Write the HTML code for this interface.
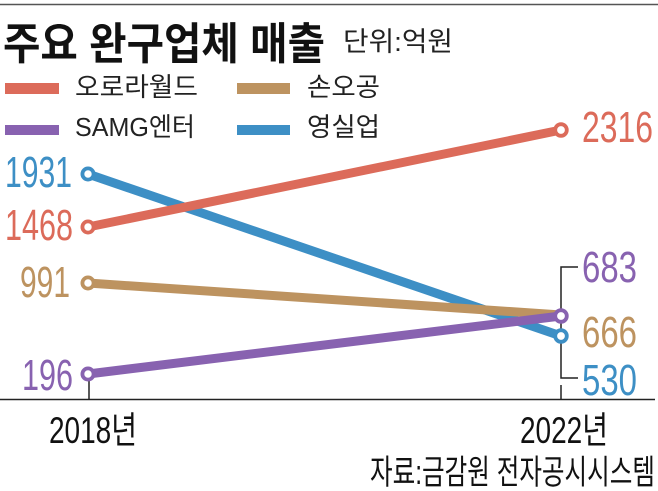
<!DOCTYPE html>
<html>
<head>
<meta charset="utf-8">
<style>
  html, body { margin: 0; padding: 0; background: #ffffff; }
  svg { display: block; }
  .kr { font-family: "Liberation Sans", "Noto Sans CJK KR", "NanumGothic", sans-serif; }
  .num { font-family: "Liberation Sans", sans-serif; }
</style>
</head>
<body>
<svg width="658" height="491" viewBox="0 0 658 491" xmlns="http://www.w3.org/2000/svg">
  <rect width="658" height="491" fill="#ffffff"/>
  <!-- top rule -->
  <line x1="0" y1="4.5" x2="658" y2="4.5" stroke="#555" stroke-width="1.6"/>

  <!-- title -->
  <text class="kr" x="3" y="59" font-size="44" font-weight="bold" fill="#111" textLength="322" lengthAdjust="spacingAndGlyphs">주요 완구업체 매출</text>
  <text class="kr" x="343" y="51" font-size="27" fill="#222" textLength="110" lengthAdjust="spacingAndGlyphs">단위:억원</text>

  <!-- legend -->
  <rect x="5" y="83" width="54" height="11" fill="#dc6b5a"/>
  <text class="kr" x="75" y="96" font-size="26" fill="#222" textLength="123" lengthAdjust="spacingAndGlyphs">오로라월드</text>
  <rect x="237" y="83" width="53" height="11" fill="#bd9360"/>
  <text class="kr" x="307" y="96" font-size="26" fill="#222" textLength="73" lengthAdjust="spacingAndGlyphs">손오공</text>
  <rect x="5" y="125" width="54" height="10" fill="#8862b0"/>
  <text class="kr" x="75" y="136" font-size="26" fill="#222" textLength="120" lengthAdjust="spacingAndGlyphs">SAMG엔터</text>
  <rect x="237" y="125" width="53" height="10" fill="#3d8fc5"/>
  <text class="kr" x="307" y="136" font-size="26" fill="#222" textLength="73" lengthAdjust="spacingAndGlyphs">영실업</text>

  <!-- axis -->
  <line x1="0" y1="399.5" x2="655" y2="399.5" stroke="#222" stroke-width="1.6"/>
  <line x1="89" y1="381" x2="89" y2="400" stroke="#222" stroke-width="1.5"/>
  <line x1="561" y1="385" x2="561" y2="400" stroke="#222" stroke-width="1.5"/>

  <!-- bracket -->
  <polyline points="578,267 561,267 561,378 578,378" fill="none" stroke="#222" stroke-width="1.5"/>

  <!-- series lines -->
  <line x1="88" y1="174" x2="561" y2="336" stroke="#3d8fc5" stroke-width="9"/>
  <line x1="88" y1="283" x2="561" y2="315" stroke="#bd9360" stroke-width="9"/>
  <line x1="88" y1="374" x2="561" y2="316" stroke="#8862b0" stroke-width="9"/>
  <line x1="88" y1="227" x2="561" y2="130" stroke="#dc6b5a" stroke-width="9"/>

  <!-- markers -->
  <circle cx="88" cy="174" r="5.6" fill="#fff" stroke="#3d8fc5" stroke-width="3.8"/>
  <circle cx="88" cy="283" r="5.6" fill="#fff" stroke="#bd9360" stroke-width="3.8"/>
  <circle cx="88" cy="374" r="5.6" fill="#fff" stroke="#8862b0" stroke-width="3.8"/>
  <circle cx="88" cy="227" r="5.6" fill="#fff" stroke="#dc6b5a" stroke-width="3.8"/>
  <circle cx="561" cy="336" r="5.8" fill="#fff" stroke="#3d8fc5" stroke-width="3.8"/>
  <circle cx="561" cy="316" r="5.8" fill="#fff" stroke="#8862b0" stroke-width="3.8"/>
  <circle cx="561" cy="130" r="5.8" fill="#fff" stroke="#dc6b5a" stroke-width="3.8"/>

  <!-- left labels -->
  <text class="num" x="5" y="187" font-size="44" fill="#3d8fc5" textLength="67" lengthAdjust="spacingAndGlyphs">1931</text>
  <text class="num" x="5" y="240" font-size="44" fill="#dc6b5a" textLength="68" lengthAdjust="spacingAndGlyphs">1468</text>
  <text class="num" x="20" y="297" font-size="44" fill="#bd9360" textLength="50" lengthAdjust="spacingAndGlyphs">991</text>
  <text class="num" x="22" y="390" font-size="44" fill="#8862b0" textLength="51" lengthAdjust="spacingAndGlyphs">196</text>

  <!-- right labels -->
  <text class="num" x="582" y="142" font-size="44" fill="#dc6b5a" textLength="71" lengthAdjust="spacingAndGlyphs">2316</text>
  <text class="num" x="582" y="282" font-size="44" fill="#8862b0" textLength="55" lengthAdjust="spacingAndGlyphs">683</text>
  <text class="num" x="582" y="347" font-size="44" fill="#bd9360" textLength="55" lengthAdjust="spacingAndGlyphs">666</text>
  <text class="num" x="582" y="395" font-size="44" fill="#3d8fc5" textLength="55" lengthAdjust="spacingAndGlyphs">530</text>

  <!-- x labels -->
  <text class="kr" x="49" y="443" font-size="37" fill="#111" textLength="88" lengthAdjust="spacingAndGlyphs">2018년</text>
  <text class="kr" x="520" y="443" font-size="37" fill="#111" textLength="88" lengthAdjust="spacingAndGlyphs">2022년</text>

  <!-- source -->
  <text class="kr" x="370" y="484" font-size="34" fill="#111" textLength="285" lengthAdjust="spacingAndGlyphs">자료:금감원 전자공시시스템</text>
</svg>
</body>
</html>
